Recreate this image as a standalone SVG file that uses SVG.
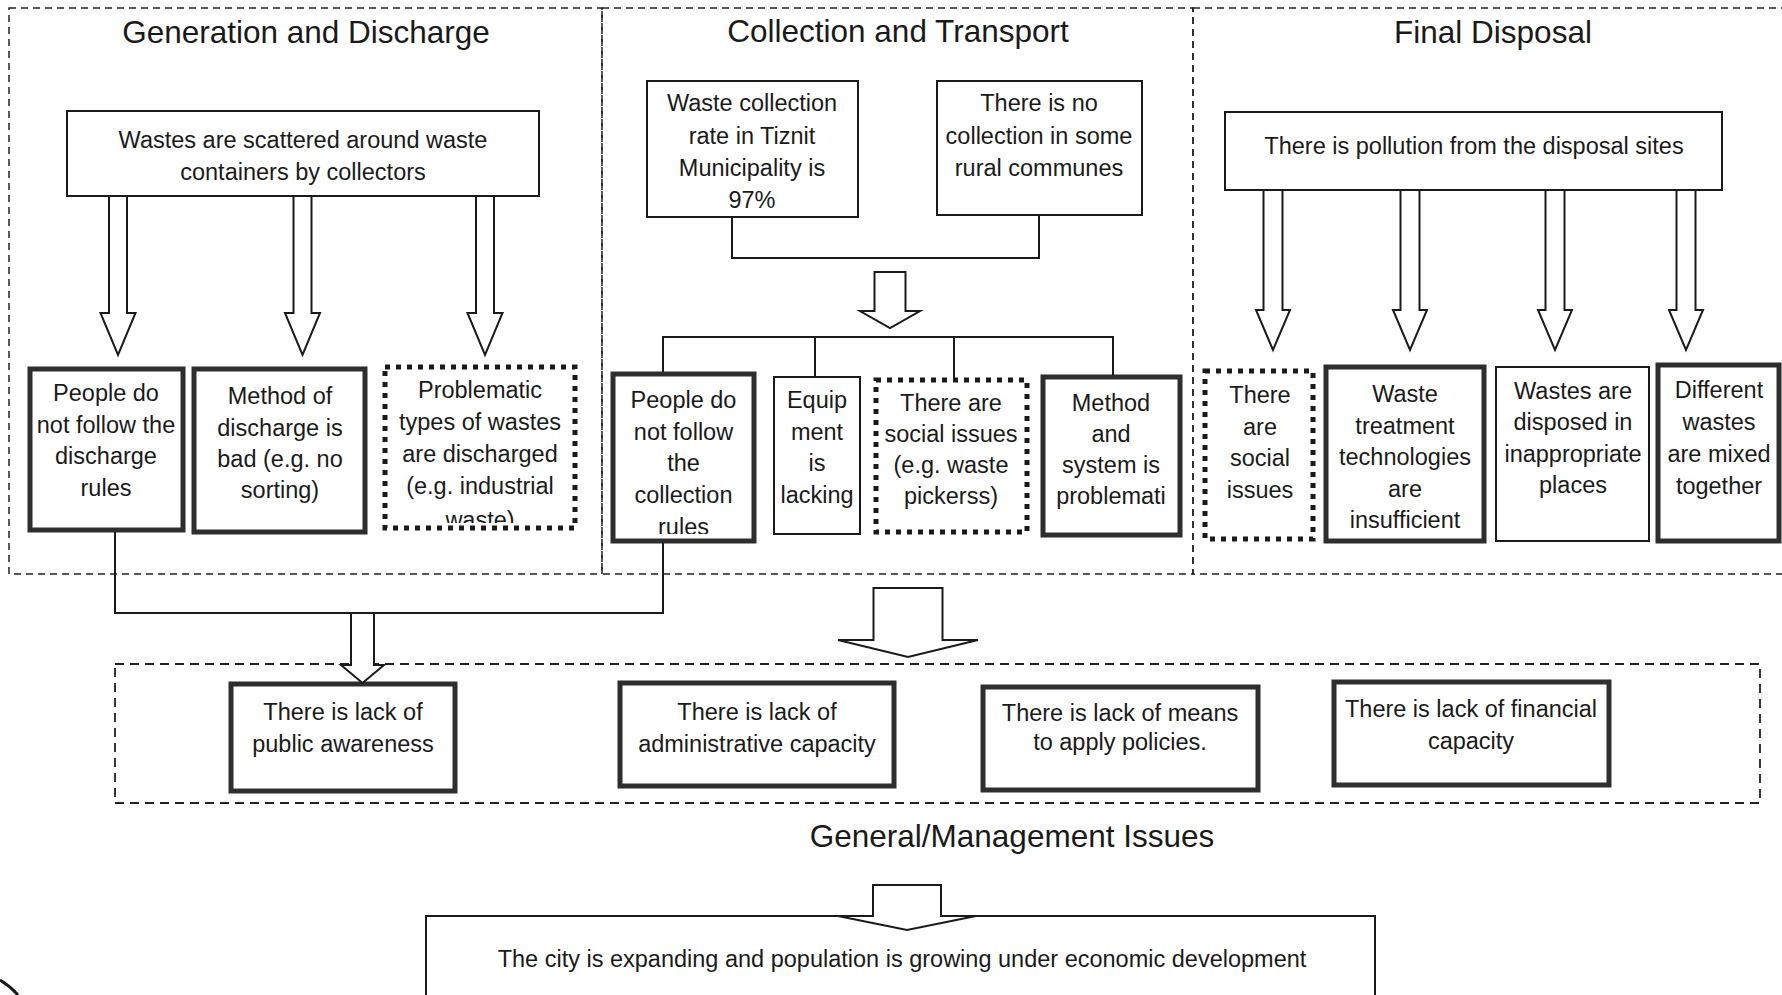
<svg xmlns="http://www.w3.org/2000/svg" width="1782" height="995" viewBox="0 0 1782 995">
<style>
.sec{fill:none;stroke:#222;stroke-width:1.5;stroke-dasharray:7 5}
.grp{fill:none;stroke:#222;stroke-width:1.8;stroke-dasharray:9 6}
.title{font-family:"Liberation Sans",Arial,sans-serif;font-size:31.5px;text-anchor:middle;fill:#1a1a1a}
.t{font-family:"Liberation Sans",Arial,sans-serif;font-size:23.5px;text-anchor:middle;fill:#1a1a1a}
.thin{fill:#fff;stroke:#1a1a1a;stroke-width:2}
.thick{fill:#fff;stroke:#2e2e2e;stroke-width:5}
.dot{fill:#fff;stroke:#1a1a1a;stroke-width:5;stroke-dasharray:5 6}
.arrow{fill:#fff;stroke:#1a1a1a;stroke-width:2}
.line{fill:none;stroke:#1a1a1a;stroke-width:2}
</style>
<defs>
<clipPath id="clipB3"><rect x="386" y="368" width="188" height="155"/></clipPath>
<clipPath id="clipD1"><rect x="614" y="375" width="139" height="159"/></clipPath>
</defs>
<rect width="1782" height="995" fill="#fff"/>

<g id="section-generation">
<rect class="sec" x="9" y="8" width="593" height="566"/>
<text class="title" x="306" y="43">Generation and Discharge</text>
</g>
<g id="section-collection">
<rect class="sec" x="602" y="8" width="591" height="566"/>
<text class="title" x="898" y="42">Collection and Transport</text>
</g>
<g id="section-disposal">
<rect class="sec" x="1193" y="8" width="600" height="566"/>
<text class="title" x="1493" y="43">Final Disposal</text>
</g>

<g id="n-scattered">
<rect class="thin" x="67" y="111" width="472" height="85"/>
<text class="t"><tspan x="303" y="148">Wastes are scattered around waste</tspan><tspan x="303" y="180">containers by collectors</tspan></text>
</g>
<g id="n-people-discharge">
<rect class="thick" x="30" y="369" width="153" height="161"/>
<text class="t"><tspan x="106" y="401">People do</tspan><tspan x="106" y="433">not follow the</tspan><tspan x="106" y="464">discharge</tspan><tspan x="106" y="496">rules</tspan></text>
</g>
<g id="n-method-discharge">
<rect class="thick" x="194" y="369" width="171" height="163"/>
<text class="t"><tspan x="280" y="404">Method of</tspan><tspan x="280" y="436">discharge is</tspan><tspan x="280" y="467">bad (e.g. no</tspan><tspan x="280" y="498">sorting)</tspan></text>
</g>
<g id="n-problematic">
<rect class="dot" x="385" y="367" width="190" height="161"/>
<text class="t" clip-path="url(#clipB3)"><tspan x="480" y="398">Problematic</tspan><tspan x="480" y="430">types of wastes</tspan><tspan x="480" y="462">are discharged</tspan><tspan x="480" y="494">(e.g. industrial</tspan><tspan x="480" y="528">waste)</tspan></text>
</g>

<g id="n-collection-rate">
<rect class="thin" x="647" y="81" width="211" height="136"/>
<text class="t"><tspan x="752" y="111">Waste collection</tspan><tspan x="752" y="144">rate in Tiznit</tspan><tspan x="752" y="176">Municipality is</tspan><tspan x="752" y="208">97%</tspan></text>
</g>
<g id="n-no-collection">
<rect class="thin" x="937" y="81" width="205" height="134"/>
<text class="t"><tspan x="1039" y="111">There is no</tspan><tspan x="1039" y="144">collection in some</tspan><tspan x="1039" y="176">rural communes</tspan></text>
</g>
<g id="n-people-collection">
<rect class="thick" x="613" y="374" width="141" height="167"/>
<text class="t" clip-path="url(#clipD1)"><tspan x="683.5" y="408">People do</tspan><tspan x="683.5" y="440">not follow</tspan><tspan x="683.5" y="471">the</tspan><tspan x="683.5" y="503">collection</tspan><tspan x="683.5" y="535">rules</tspan></text>
</g>
<g id="n-equipment">
<rect class="thin" x="774" y="377" width="86" height="157"/>
<text class="t"><tspan x="817" y="408">Equip</tspan><tspan x="817" y="440">ment</tspan><tspan x="817" y="471">is</tspan><tspan x="817" y="503">lacking</tspan></text>
</g>
<g id="n-social-collection">
<rect class="dot" x="876" y="380" width="151" height="152"/>
<text class="t"><tspan x="951" y="411">There are</tspan><tspan x="951" y="442">social issues</tspan><tspan x="951" y="473">(e.g. waste</tspan><tspan x="951" y="504">pickerss)</tspan></text>
</g>
<g id="n-method-system">
<rect class="thick" x="1043" y="377" width="137" height="158"/>
<text class="t"><tspan x="1111" y="411">Method</tspan><tspan x="1111" y="442">and</tspan><tspan x="1111" y="473">system is</tspan><tspan x="1111" y="504">problemati</tspan></text>
</g>

<g id="n-pollution">
<rect class="thin" x="1225" y="112" width="497" height="78"/>
<text class="t" x="1474" y="154">There is pollution from the disposal sites</text>
</g>
<g id="n-social-disposal">
<rect class="dot" x="1205" y="371" width="108" height="168"/>
<text class="t"><tspan x="1260" y="403">There</tspan><tspan x="1260" y="435">are</tspan><tspan x="1260" y="466">social</tspan><tspan x="1260" y="498">issues</tspan></text>
</g>
<g id="n-treatment">
<rect class="thick" x="1326" y="367" width="158" height="174"/>
<text class="t"><tspan x="1405" y="402">Waste</tspan><tspan x="1405" y="434">treatment</tspan><tspan x="1405" y="465">technologies</tspan><tspan x="1405" y="497">are</tspan><tspan x="1405" y="528">insufficient</tspan></text>
</g>
<g id="n-inappropriate">
<rect class="thin" x="1496" y="367" width="153" height="174"/>
<text class="t"><tspan x="1573" y="399">Wastes are</tspan><tspan x="1573" y="430">disposed in</tspan><tspan x="1573" y="462">inappropriate</tspan><tspan x="1573" y="493">places</tspan></text>
</g>
<g id="n-mixed">
<rect class="thick" x="1658" y="365" width="121" height="176"/>
<text class="t"><tspan x="1719" y="398">Different</tspan><tspan x="1719" y="430">wastes</tspan><tspan x="1719" y="462">are mixed</tspan><tspan x="1719" y="494">together</tspan></text>
</g>

<g id="group-general">
<rect class="grp" x="115" y="664" width="1645" height="139"/>
<text class="title" x="1012" y="847">General/Management Issues</text>
</g>
<g id="n-public-awareness">
<rect class="thick" x="231" y="684" width="224" height="107"/>
<text class="t"><tspan x="343" y="720">There is lack of</tspan><tspan x="343" y="752">public awareness</tspan></text>
</g>
<g id="n-admin">
<rect class="thick" x="620" y="683" width="274" height="103"/>
<text class="t"><tspan x="757" y="720">There is lack of</tspan><tspan x="757" y="752">administrative capacity</tspan></text>
</g>
<g id="n-means">
<rect class="thick" x="983" y="687" width="275" height="103"/>
<text class="t"><tspan x="1120" y="721">There is lack of means</tspan><tspan x="1120" y="750">to apply policies.</tspan></text>
</g>
<g id="n-financial">
<rect class="thick" x="1334" y="682" width="275" height="103"/>
<text class="t"><tspan x="1471" y="717">There is lack of financial</tspan><tspan x="1471" y="749">capacity</tspan></text>
</g>

<g id="n-city">
<rect class="thin" x="426" y="916" width="949" height="100"/>
<text class="t" x="902" y="967">The city is expanding and population is growing under economic development</text>
</g>

<g id="connectors">
<path class="arrow" d="M109,196 V313 H100.5 L118,355 L135.5,313 H127 V196 Z"/>
<path class="arrow" d="M293.5,196 V313 H285 L302.5,355 L320,313 H311.5 V196 Z"/>
<path class="arrow" d="M476,196 V313 H467.5 L485,355 L502.5,313 H494 V196 Z"/>
<path class="line" d="M732,217 V258 H1039 V215"/>
<path class="arrow" d="M874.5,272 V311 H860 L890,328 L920,311 H905.5 V272 Z"/>
<path class="line" d="M663,372 V337 H1113 V375 M815,337 V377 M954,337 V378"/>
<path class="arrow" d="M1263.5,190 V310 H1256 L1273,350 L1290,310 H1282.5 V190 Z"/>
<path class="arrow" d="M1400.5,190 V310 H1393 L1410,350 L1427,310 H1419.5 V190 Z"/>
<path class="arrow" d="M1545.5,190 V310 H1538 L1555,350 L1572,310 H1564.5 V190 Z"/>
<path class="arrow" d="M1676.5,190 V310 H1669 L1686,350 L1703,310 H1695.5 V190 Z"/>
<path class="line" d="M115,532 V613 H663 V543"/>
<path class="arrow" d="M351,613 V665 H341 L362.5,683 L384,665 H374 V613 Z"/>
<path class="arrow" d="M873.5,588 V640 H838 L908,657 L978,640 H942.5 V588 Z"/>
<path class="arrow" d="M873,885 V916 H838 L907,930 L976,916 H941 V885 Z"/>
<path fill="none" stroke="#1a1a1a" stroke-width="3" d="M0,980 Q10,986 18,995"/>
</g>
</svg>
